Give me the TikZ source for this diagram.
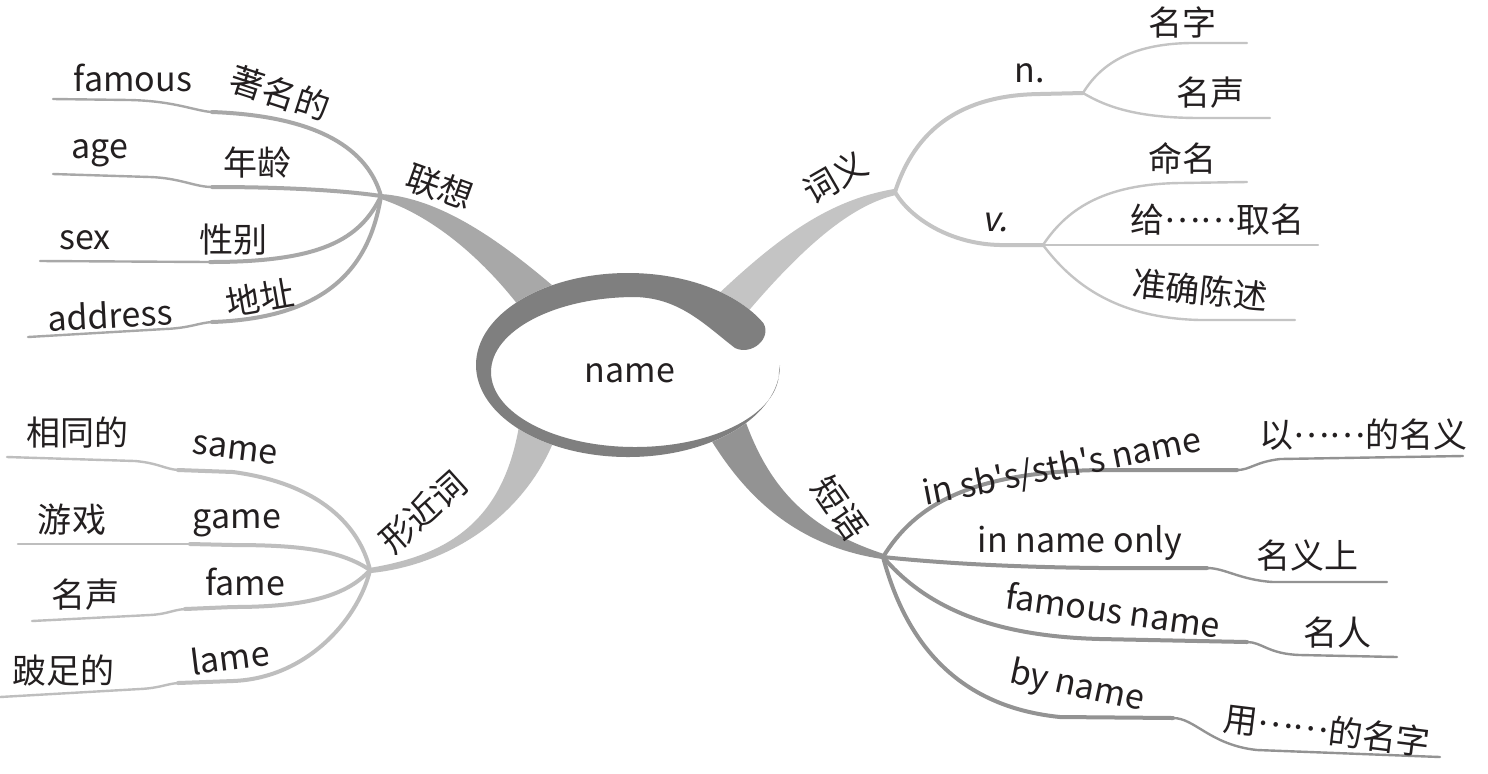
\documentclass[tikz,border=0pt]{standalone}
\usepackage{fontspec}
\setmainfont{Noto Sans CJK SC}[Ligatures=TeXOff,AutoFakeSlant=0.2]
\usetikzlibrary{calc}
\definecolor{RingGrey}{HTML}{7F7F7F}
\definecolor{AssocGrey}{HTML}{A8A8A8}
\definecolor{SenseGrey}{HTML}{C4C4C4}
\definecolor{FormGrey}{HTML}{BEBEBE}
\definecolor{PhraseGrey}{HTML}{939393}
\definecolor{InkDark}{HTML}{231F20}
\newcommand\midell{\raisebox{0.3em}{……}}

\begin{document}
\begin{tikzpicture}[x=0.5pt,y=-0.5pt,lab/.style={font=\fontsize{17}{20}\selectfont,text=InkDark,inner sep=0pt},twig/.style={line width=2pt,line cap=round},twigend/.style={line width=1.2pt,line cap=round}]
\useasboundingbox (0,0) rectangle (1488,773);
\fill[white] (0,0) rectangle (1488,773);
\coordinate (assoc) at (381,196);
\coordinate (sense) at (895,192);
\coordinate (form) at (370,570);
\coordinate (phrase) at (883,557);
% trunks
\fill[AssocGrey] (381,194) .. controls (440,198) and (500,240) .. (560,292) -- (522,310) .. controls (480,255) and (430,215) .. (381,199) -- cycle;
\fill[SenseGrey] (894,189) .. controls (830,200) and (780,235) .. (712,300) -- (745,315) .. controls (800,250) and (850,205) .. (896,195) -- cycle;
\fill[FormGrey] (369,568) .. controls (450,555) and (505,520) .. (520,420) -- (555,438) .. controls (525,515) and (450,565) .. (371,573) -- cycle;
\fill[PhraseGrey] (705,430) .. controls (740,490) and (790,545) .. (882,559) -- (884,554) .. controls (810,530) and (770,490) .. (745,420) -- cycle;
% association
\begin{scope}[draw=AssocGrey]
\draw[twig] (assoc) .. controls (368,150) and (320,116) .. (212,112) coordinate (famJ);
\draw[twigend] (famJ) .. controls (195,111) and (175,101) .. (130,100) -- (53,99);
\draw[twig] (assoc) .. controls (340,190) and (280,187) .. (212,187) coordinate (ageJ);
\draw[twigend] (ageJ) .. controls (195,187) and (180,178) .. (150,177) -- (53,174);
\draw[twig] (assoc) .. controls (360,240) and (320,262) .. (210,262) coordinate (sexJ);
\draw[twigend] (sexJ) -- (40,261);
\draw[twig] (assoc) .. controls (370,265) and (330,318) .. (212,322) coordinate (addJ);
\draw[twigend] (addJ) .. controls (198,323) and (190,328) .. (165,329) -- (28,337);
\end{scope}
% meaning
\begin{scope}[draw=SenseGrey]
\draw[twig] (sense) .. controls (915,130) and (960,95) .. (1040,94) -- (1083,93) coordinate (noun);
\draw[twig] (sense) .. controls (910,218) and (950,244) .. (1000,245) -- (1043,245) coordinate (verb);
\draw[twigend] (noun) .. controls (1100,65) and (1130,44) .. (1190,43) -- (1247,43);
\draw[twigend] (noun) .. controls (1108,108) and (1140,118) .. (1200,118) -- (1270,118);
\draw[twigend] (verb) .. controls (1065,212) and (1100,184) .. (1180,183) -- (1247,182);
\draw[twigend] (verb) -- (1318,245);
\draw[twigend] (verb) .. controls (1068,278) and (1110,318) .. (1200,320) -- (1295,320);
\end{scope}
% look-alikes
\begin{scope}[draw=FormGrey]
\draw[twig] (form) .. controls (362,535) and (330,485) .. (233,472) -- (178,470) coordinate (sameJ);
\draw[twigend] (sameJ) .. controls (165,469) and (158,463) .. (135,461) -- (7,457);
\draw[twig] (form) .. controls (340,550) and (300,545) .. (233,545) -- (190,544) coordinate (gameJ);
\draw[twigend] (gameJ) -- (18,544);
\draw[twig] (form) .. controls (345,598) and (300,607) .. (233,607) -- (185,609) coordinate (fameJ);
\draw[twigend] (fameJ) .. controls (172,610) and (168,614) .. (150,615) -- (32,621);
\draw[twig] (form) .. controls (360,615) and (310,678) .. (233,681) -- (178,683) coordinate (lameJ);
\draw[twigend] (lameJ) .. controls (166,684) and (160,688) .. (140,689) -- (0,697);
\end{scope}
% phrases
\begin{scope}[draw=PhraseGrey]
\draw[twig] (phrase) .. controls (915,505) and (970,472) .. (1100,470) -- (1237,470) coordinate (sbJ);
\draw[twigend] (sbJ) .. controls (1250,470) and (1255,462) .. (1280,459) -- (1463,456);
\draw[twig] (phrase) .. controls (930,562) and (1000,567) .. (1100,568) -- (1207,568) coordinate (onlyJ);
\draw[twigend] (onlyJ) .. controls (1225,568) and (1240,580) .. (1273,582) -- (1387,582);
\draw[twig] (phrase) .. controls (920,600) and (980,636) .. (1100,639) -- (1247,642) coordinate (celebJ);
\draw[twigend] (celebJ) .. controls (1262,642) and (1268,654) .. (1300,655) -- (1397,657);
\draw[twig] (phrase) .. controls (900,620) and (940,705) .. (1060,717) -- (1173,718) coordinate (byJ);
\draw[twigend] (byJ) .. controls (1195,718) and (1210,745) .. (1257,750) -- (1440,757);
\end{scope}
% centre
\fill[white] (628,365) ellipse [x radius=152,y radius=92];
\fill[RingGrey] (780,365) arc[start angle=0,end angle=333,x radius=152,y radius=92] .. controls (772,338) and (752,356) .. (735,348) .. controls (705,325) and (680,298) .. (635,297) arc[start angle=270,end angle=0,x radius=144,y radius=75] -- cycle;
\node[lab] (centre) at (630,373) {name};
\foreach \nm/\x/\y/\r/\t in {lianxiang/440/187/-20/联想,famous/133/78/0/famous,zhuming/280/93/-18/著名的,age/100/153/0/age,nianling/257/163/0/年龄,sex/85/240/0/sex,xingbie/233/240/0/性别,address/110/315/3/address,dizhi/260/297/10/地址}
  \node[lab,rotate=\r] (\nm) at (\x,\y) {\t};
\foreach \nm/\x/\y/\r/\t in {ciyi/835/177/30/词义,n/1030/73/0/n.,mingzi/1182/22/0/名字,mingsheng/1210/93/0/名声,v/995/222/0/{\itshape v.},mingming/1182/158/0/命名,quming/1217/220/0/给\midell 取名,chenshu/1200/290/-6/准确陈述}
  \node[lab,rotate=\r] (\nm) at (\x,\y) {\t};
\foreach \nm/\x/\y/\r/\t in {xingjin/423/512/42/形近词,xiangtong/77/433/0/相同的,same/235/450/-7/same,youxi/72/520/0/游戏,game/237/523/0/game,shengyu/85/595/0/名声,fame/245/582/0/fame,bozu/63/670/0/跛足的,lame/230/657/7/lame}
  \node[lab,rotate=\r] (\nm) at (\x,\y) {\t};
\foreach \nm/\x/\y/\r/\t in {duanyu/840/508/-55/短语,insb/1062/468/11/{in sb's/sth's name},mingyi/1363/435/0/以\midell 的名义,inonly/1080/543/0/in name only,mingyishang/1307/555/0/名义上,famname/1113/610/-8/famous name,mingren/1337/632/0/名人,byname/1077/687/-12/by name,yong/1327/730/-7/用\midell 的名字}
  \node[lab,rotate=\r] (\nm) at (\x,\y) {\t};
\end{tikzpicture}
\end{document}
